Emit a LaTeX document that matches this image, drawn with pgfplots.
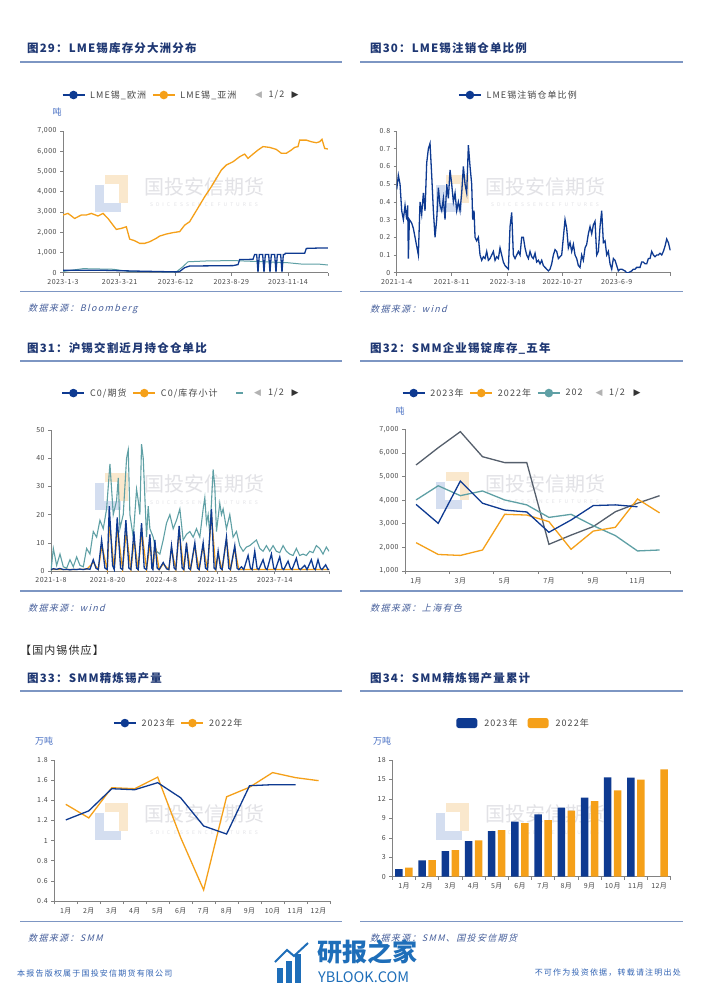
\documentclass[border=0pt]{standalone}
\usepackage{fontspec}
\setmainfont{Noto Sans CJK SC}
\newfontfamily\tickf{Noto Sans CJK SC}[LetterSpace=6]
\newfontfamily\legf{Noto Sans CJK SC}[LetterSpace=12]
\newfontfamily\titf{Noto Sans CJK SC}[LetterSpace=10]
\newfontfamily\srcf{Noto Sans CJK SC}[FakeSlant=0.25,LetterSpace=15]
\newfontfamily\footf{Noto Sans CJK SC}[LetterSpace=15]
\newfontfamily\wmf{Noto Sans CJK SC}
\newfontfamily\wmsf{Noto Sans CJK SC}[LetterSpace=60]
\newfontfamily\symf{DejaVu Sans}
\usepackage{pgfplots}
\pgfplotsset{compat=1.18}
\definecolor{cblue}{RGB}{14,58,145}
\definecolor{corange}{RGB}{245,160,25}
\definecolor{cteal}{RGB}{95,160,165}
\definecolor{cgray}{RGB}{85,95,108}
\definecolor{ctitle}{RGB}{30,55,115}
\definecolor{crule}{RGB}{125,150,195}
\definecolor{csrc}{RGB}{70,95,155}
\definecolor{cunit}{RGB}{70,110,195}
\definecolor{caxis}{RGB}{130,130,130}
\definecolor{clab}{RGB}{70,70,70}
\definecolor{wmtext}{RGB}{226,226,230}
\definecolor{wmblue}{RGB}{212,222,240}
\definecolor{wmorange}{RGB}{250,232,205}
\definecolor{cfoot}{RGB}{50,100,180}
\definecolor{cyb}{RGB}{30,110,185}

\pgfplotsset{
  base/.style={
    scale only axis, anchor=south west,
    axis x line*=bottom, axis y line*=left,
    axis line style={draw=caxis, line width=0.7pt, -},
    tick style={draw=caxis, line width=0.6pt},
    major tick length=3pt, minor tick length=3pt, tick align=outside,
    /pgf/number format/assume math mode=true,
    ticklabel style={font=\tickf\fontsize{7}{8}\selectfont, text=clab},
    legend style={draw=none, fill=none, inner sep=0pt, legend columns=-1,
      font=\legf\fontsize{9}{10}\selectfont, text=clab, anchor=west,
      /tikz/every odd column/.append style={column sep=3pt},
      /tikz/every even column/.append style={column sep=4pt}},
    legend cell align=left,
    legend image code/.code={\draw[mark repeat=2,mark phase=2,##1] plot coordinates {(0pt,0pt) (11pt,0pt) (22pt,0pt)};},
  },
  lg/.style={line width=1.3pt, mark=*, mark size=3.6pt, mark options={solid}},
}

\newcommand{\wm}[2]{%
\begin{scope}[shift={(#1,#2)}]
\fill[wmorange] (105,175) rectangle (128,184);
\fill[wmorange] (119,175) rectangle (128,203);
\fill[wmblue] (95,185) rectangle (104,212);
\fill[wmblue] (95,203) rectangle (121,212);
\node[text=wmtext, font=\wmf\fontsize{20}{20}\selectfont, inner sep=0] at (204,186.5) {国投安信期货};
\node[text=wmtext, font=\wmsf\fontsize{5}{5}\selectfont, inner sep=0] at (204,205) {SDIC ESSENCE FUTURES};
\end{scope}}

\begin{document}
\begin{tikzpicture}
\fill[white] (0pt,0pt) rectangle (702pt,-991pt);
\useasboundingbox (0pt,0pt) rectangle (702pt,-991pt);
\begin{scope}[x=1pt,y=-1pt]
% watermarks
\wm{0}{0}\wm{341}{0}\wm{0}{297.5}\wm{341}{297}\wm{0}{627.5}\wm{341}{627.5}
% titles
\tikzset{tt/.style={anchor=west, inner sep=0, text=ctitle, font=\titf\bfseries\fontsize{11.5}{12}\selectfont}}
\node[tt] at (27,48) {图29：LME锡库存分大洲分布};
\node[tt] at (370,48) {图30：LME锡注销仓单比例};
\node[tt] at (27,348) {图31：沪锡交割近月持仓仓单比};
\node[tt] at (370,348) {图32：SMM企业锡锭库存\_五年};
\node[tt] at (27,678) {图33：SMM精炼锡产量};
\node[tt] at (370,678) {图34：SMM精炼锡产量累计};
% rules
\foreach \ya/\yb in {62/291.5, 361/591, 691/921.5}{
  \draw[crule, line width=1.3pt] (20,\ya) -- (342,\ya);
  \draw[crule, line width=1.3pt] (360,\ya) -- (683,\ya);
  \draw[crule, line width=1.3pt] (20,\yb) -- (342,\yb);
  \draw[crule, line width=1.3pt] (360,\yb) -- (683,\yb);
}
% sources
\tikzset{ss/.style={anchor=west, inner sep=0, text=csrc, font=\srcf\fontsize{9}{10}\selectfont}}
\node[ss] at (28,309) {数据来源：Bloomberg};
\node[ss] at (370,309) {数据来源：wind};
\node[ss] at (28,608) {数据来源：wind};
\node[ss] at (370,608) {数据来源：上海有色};
\node[ss] at (28,938) {数据来源：SMM};
\node[ss] at (370,938) {数据来源：SMM、国投安信期货};
% section header
\node[anchor=west, inner sep=0, text=black!85, font=\titf\fontsize{11}{12}\selectfont] at (20,650) {【国内锡供应】};
% units
\tikzset{uu/.style={inner sep=0, text=cunit, font=\fontsize{9}{10}\selectfont}}
\node[uu] at (57,112) {吨};
\node[uu] at (400,411) {吨};
\node[uu] at (44,741) {万吨};
\node[uu] at (382,741) {万吨};
% legend pagers
\tikzset{pl/.style={inner sep=0, text=black!30, font=\symf\fontsize{9}{10}\selectfont},
         pr/.style={inner sep=0, text=black!80, font=\symf\fontsize{9}{10}\selectfont},
         pn/.style={inner sep=0, text=clab, font=\legf\fontsize{9}{10}\selectfont}}
\node[pl] at (258.5,95) {◀}; \node[pn] at (276.5,95) {1/2}; \node[pr] at (295,95) {▶};
\draw[cteal, line width=1.2pt] (236,393) -- (243,393);
\node[pl] at (257.5,393) {◀}; \node[pn] at (276,393) {1/2}; \node[pr] at (295,393) {▶};
\node[pl] at (599,393) {◀}; \node[pn] at (617,393) {1/2}; \node[pr] at (637,393) {▶};
% footer
\node[anchor=west, inner sep=0, text=cfoot, font=\footf\fontsize{8}{9}\selectfont] at (17,973) {本报告版权属于国投安信期货有限公司};
\node[anchor=east, inner sep=0, text=cfoot, font=\footf\fontsize{8}{9}\selectfont] at (681,973) {不可作为投资依据，转载请注明出处};
\fill[cyb] (277,968) rectangle (283,983);
\fill[cyb] (286,961) rectangle (292,983);
\fill[cyb] (295,954) rectangle (301,983);
\draw[cyb, line width=2pt] (275,962) -- (287,950) -- (294,956) -- (308,943);
\node[anchor=west, inner sep=0, text=cyb, font=\bfseries\fontsize{25}{26}\selectfont] at (317,952) {研报之家};
\node[anchor=west, inner sep=0, text=cyb, font=\fontsize{14.5}{15}\selectfont] at (318,977) {YBLOOK.COM};
\end{scope}

% ---------------- Fig 29 ----------------
\begin{axis}[base, at={(63pt,-272.7pt)}, width=265pt, height=141.7pt,
  xmin=130, xmax=925, ymin=0, ymax=7000,
  xtick={130,300,468,635,805,925}, xticklabels={2023-1-3,2023-3-21,2023-6-12,2023-8-29,2023-11-14,{}},
  ytick={0,1000,...,7000}, yticklabels={0,{1,000},{2,000},{3,000},{4,000},{5,000},{6,000},{7,000}},
  legend style={at={(-0.005,1.254)}}]
\addlegendimage{lg,cblue}\addlegendentry{LME锡\_欧洲}
\addlegendimage{lg,corange}\addlegendentry{LME锡\_亚洲}
\addplot[cteal, line width=1pt, forget plot] coordinates {(130,60)(190,200)(280,170)(330,60)(470,40)(490,300)(505,540)(560,580)(640,600)(700,560)(800,500)(850,420)(900,420)(925,380)};
\addplot[cblue, line width=1.3pt, forget plot] coordinates {(130,120)(250,120)(350,80)(470,40)(480,60)(495,250)(510,330)(640,350)(655,400)(660,650)(700,660)(705,900)
(711,900)(715,30)(719,900)(729,900)(733,30)(737,900)(747,900)(751,30)(755,900)(765,900)(769,30)(773,900)(783,900)(787,30)(791,900)(795,900)(797,960)(855,960)(860,1200)(900,1220)(925,1220)};
\addplot[corange, line width=1.3pt, forget plot] coordinates {(130,2850)(145,2930)(165,2680)(185,2850)(200,2850)(215,2930)(235,2800)(250,2930)(265,2680)(280,2350)(290,2140)(305,2190)(320,2270)(330,1660)(345,1580)(360,1450)(375,1450)(390,1530)(410,1700)(420,1810)(440,1910)(460,1980)(480,2030)(495,2350)(510,2520)(525,2930)(540,3340)(555,3750)(575,4250)(590,4660)(605,5070)(620,5320)(640,5480)(660,5730)(675,5860)(685,5650)(700,5860)(715,6060)(730,6230)(750,6190)(770,6090)(785,5900)(800,5900)(815,6060)(825,6190)(835,6230)(840,6550)(860,6550)(875,6470)(890,6420)(900,6470)(907,6590)(912,6310)(915,6140)(925,6110)};
\end{axis}

% ---------------- Fig 30 ----------------
\begin{axis}[base, at={(396.7pt,-272.7pt)}, width=274pt, height=141.7pt,
  xmin=140, xmax=962, ymin=0, ymax=0.8,
  xtick={140,305,473,637,800,962}, xticklabels={2021-1-4,2021-8-11,2022-3-18,2022-10-27,2023-6-9,{}},
  ytick={0,0.1,...,0.8}, yticklabels={0,0.1,0.2,0.3,0.4,0.5,0.6,0.7,0.8},
  legend style={at={(0.224,1.254)}}]
\addlegendimage{lg,cblue}\addlegendentry{LME锡注销仓单比例}
\addplot[cblue, line width=1.3pt, forget plot] coordinates {(140,0.47)(145,0.55)(150,0.50)(155,0.35)(160,0.30)(165,0.38)(170,0.30)(173,0.38)(175,0.08)(178,0.30)(185,0.28)(190,0.25)(195,0.20)(200,0.15)(205,0.10)(210,0.40)(215,0.33)(220,0.45)(225,0.35)(230,0.62)(235,0.70)(240,0.73)(245,0.55)(250,0.35)(255,0.20)(260,0.30)(265,0.48)(270,0.38)(275,0.35)(280,0.42)(285,0.30)(290,0.50)(295,0.42)(300,0.58)(305,0.50)(310,0.40)(315,0.45)(320,0.35)(325,0.40)(330,0.35)(335,0.45)(340,0.60)(345,0.50)(350,0.45)(355,0.72)(360,0.60)(365,0.50)(368,0.30)(372,0.35)(375,0.20)(380,0.18)(385,0.20)(390,0.10)(395,0.07)(400,0.09)(405,0.08)(410,0.12)(415,0.07)(420,0.08)(425,0.10)(430,0.12)(435,0.07)(440,0.09)(445,0.08)(450,0.14)(455,0.10)(460,0.06)(465,0.04)(470,0.03)(475,0.02)(480,0.26)(485,0.34)(490,0.10)(495,0.08)(500,0.10)(505,0.12)(510,0.10)(515,0.20)(520,0.20)(525,0.14)(530,0.10)(535,0.08)(540,0.12)(545,0.09)(550,0.08)(555,0.11)(560,0.06)(565,0.07)(570,0.05)(575,0.07)(580,0.04)(585,0.03)(590,0.02)(595,0.01)(600,0.02)(605,0.05)(610,0.10)(615,0.13)(620,0.12)(625,0.08)(630,0.09)(635,0.10)(640,0.20)(645,0.30)(650,0.25)(655,0.14)(660,0.17)(665,0.12)(670,0.16)(675,0.10)(680,0.08)(685,0.04)(690,0.03)(695,0.10)(700,0.07)(705,0.14)(710,0.16)(715,0.22)(720,0.26)(725,0.22)(730,0.27)(735,0.29)(740,0.10)(745,0.12)(750,0.26)(755,0.35)(760,0.17)(765,0.18)(770,0.10)(775,0.12)(780,0.05)(785,0.02)(790,0.08)(795,0.07)(800,0.04)(805,0.01)(810,0.02)(815,0.02)(820,0.015)(825,0.01)(830,0.0)(835,0.0)(840,0.005)(845,0.01)(850,0.02)(855,0.02)(860,0.03)(865,0.03)(870,0.03)(875,0.06)(880,0.06)(885,0.05)(890,0.05)(895,0.08)(900,0.08)(905,0.12)(910,0.10)(915,0.09)(920,0.10)(925,0.10)(930,0.11)(935,0.10)(940,0.12)(945,0.15)(950,0.19)(955,0.17)(960,0.13)(962,0.13)};
\end{axis}

% ---------------- Fig 31 ----------------
\begin{axis}[base, at={(51pt,-571pt)}, width=278pt, height=141pt,
  xmin=93, xmax=928, ymin=0, ymax=50,
  xtick={93,263,425,593,765,928}, xticklabels={2021-1-8,2021-8-20,2022-4-8,2022-11-25,2023-7-14,{}},
  ytick={0,10,...,50},
  legend style={at={(0.038,1.262)}}]
\addlegendimage{lg,cblue}\addlegendentry{C0/期货}
\addlegendimage{lg,corange}\addlegendentry{C0/库存小计}
\addplot[cteal, line width=1.1pt, forget plot] coordinates {(93,0)(100,8)(110,2)(120,6)(130,1.5)(140,1)(150,4)(160,1.5)(170,5)(180,2)(190,1.5)(200,8)(210,6)(220,14)(230,12)(240,18)(250,15)(260,22)(270,38)(280,20)(290,25)(295,33)(300,15)(310,20)(320,40)(325,43)(330,20)(340,12)(350,29)(355,25)(360,20)(365,45)(370,40)(380,12)(385,23)(390,15)(400,12)(405,9)(410,7)(420,6)(430,11)(440,17)(450,20)(460,15)(470,18)(480,22)(490,11)(500,13)(510,14)(520,12)(530,15)(540,12)(550,22)(555,26)(560,17)(565,20)(570,13)(580,36)(585,30)(590,14)(600,24)(605,20)(610,22)(620,15)(630,20)(640,12)(650,14)(660,9)(670,7)(680,8.5)(690,9)(700,10)(710,11)(720,8)(730,7)(740,9)(750,7)(760,9)(770,7)(780,6.5)(790,9)(800,7)(810,6)(820,5.5)(830,8)(840,5.5)(850,6)(860,5.5)(870,7)(880,6.5)(890,9)(900,8)(910,6)(920,8.5)(928,7)};
\addplot[corange, line width=1.2pt, forget plot] coordinates {(93,0.5)(200,0.6)(220,3)(235,0.5)(246,9)(262,0.5)(269,17)(283,0.5)(293,15)(308,0.5)(319,14)(333,0.5)(343,11)(355,0.5)(366,14)(380,0.5)(391,10)(399,0.5)(406,9)(418,0.5)(430,2.5)(447,0.5)(455,8)(468,0.5)(478,14)(492,0.5)(500,9)(512,0.5)(525,9)(538,0.5)(550,9)(563,0.5)(575,20)(588,0.5)(595,6)(607,0.5)(620,11)(632,0.5)(645,8)(657,0.5)(928,0.5)};
\addplot[cblue, line width=1.3pt, forget plot] coordinates {(93,0.5)(100,0.8)(110,0.6)(120,0.9)(130,0.5)(140,0.6)(150,0.4)(160,0.6)(170,0.5)(180,0.7)(190,0.5)(200,0.8)(210,0.6)(220,4)(228,1)(235,0.5)(245,11)(255,1)(262,0.5)(268,23)(278,2)(283,0.5)(292,19)(302,1)(308,0.5)(318,18)(327,1)(333,0.5)(342,14)(350,1)(355,0.5)(365,17)(373,1)(380,0.5)(390,13)(396,1)(399,0.5)(405,11)(412,1)(418,0.5)(430,3)(440,0.8)(447,0.5)(455,9)(463,1)(468,0.5)(478,16)(487,1)(492,0.5)(500,10)(507,1)(512,0.5)(525,10)(533,1)(538,0.5)(550,10)(557,1)(563,0.5)(575,22)(583,1)(588,0.5)(595,7)(602,1)(607,0.5)(620,12)(627,1)(632,0.5)(645,9)(652,1)(657,0.5)(665,1.5)(672,0.5)(685,5.5)(692,1)(697,0.5)(705,7)(712,1)(717,0.5)(730,4)(737,1)(742,0.5)(755,6)(762,1)(767,0.5)(780,5)(787,1)(792,0.5)(805,3.5)(812,1)(817,0.5)(830,4.5)(837,1)(842,0.5)(855,2)(862,0.5)(875,4)(882,1)(887,0.5)(895,4)(902,1)(907,0.5)(918,2.2)(925,0.5)(928,0.5)};
\end{axis}

% ---------------- Fig 32 ----------------
\begin{axis}[base, at={(405pt,-571pt)}, width=265.7pt, height=141.7pt,
  xmin=0.5, xmax=12.5, ymin=1000, ymax=7000,
  xtick={1,3,5,7,9,11}, xticklabels={1月,3月,5月,7月,9月,11月},
  major x tick style={draw=none}, minor xtick={0.5,2.5,4.5,6.5,8.5,10.5,12.5},
  ytick={1000,2000,...,7000}, yticklabels={{1,000},{2,000},{3,000},{4,000},{5,000},{6,000},{7,000}},
  legend style={at={(-0.012,1.256)}}]
\addlegendimage{lg,cblue}\addlegendentry{2023年}
\addlegendimage{lg,corange}\addlegendentry{2022年}
\addlegendimage{lg,cteal}\addlegendentry{202}
\addplot[cgray, line width=1.3pt, forget plot] coordinates {(1,5490)(2,6220)(3,6900)(4,5840)(5,5590)(6,5590)(7,2130)(8,2520)(9,2880)(10,3510)(11,3870)(12,4190)};
\addplot[cteal, line width=1.3pt, forget plot] coordinates {(1,4010)(2,4610)(3,4190)(4,4390)(5,4010)(6,3800)(7,3270)(8,3400)(9,2920)(10,2500)(11,1850)(12,1890)};
\addplot[corange, line width=1.3pt, forget plot] coordinates {(1,2200)(2,1700)(3,1660)(4,1890)(5,3400)(6,3370)(7,3090)(8,1920)(9,2690)(10,2850)(11,4050)(12,3460)};
\addplot[cblue, line width=1.3pt, forget plot] coordinates {(1,3820)(2,3020)(3,4810)(4,3870)(5,3580)(6,3500)(7,2640)(8,3160)(9,3770)(10,3800)(11,3720)};
\end{axis}

% ---------------- Fig 33 ----------------
\begin{axis}[base, at={(54.3pt,-901pt)}, width=275.7pt, height=141pt,
  xmin=0.5, xmax=12.5, ymin=0.4, ymax=1.8,
  xtick={1,...,12}, xticklabels={1月,2月,3月,4月,5月,6月,7月,8月,9月,10月,11月,12月},
  major x tick style={draw=none}, minor xtick={0.5,1.5,...,12.5},
  ytick={0.4,0.6,...,1.8}, yticklabels={0.4,0.6,0.8,1,1.2,1.4,1.6,1.8},
  legend style={at={(0.213,1.262)}}]
\addlegendimage{lg,cblue}\addlegendentry{2023年}
\addlegendimage{lg,corange}\addlegendentry{2022年}
\addplot[corange, line width=1.3pt, forget plot] coordinates {(1,1.36)(2,1.225)(3,1.525)(4,1.515)(5,1.63)(6,1.03)(7,0.51)(8,1.435)(9,1.53)(10,1.675)(11,1.625)(12,1.595)};
\addplot[cblue, line width=1.3pt, forget plot] coordinates {(1,1.205)(2,1.295)(3,1.515)(4,1.505)(5,1.575)(6,1.425)(7,1.145)(8,1.065)(9,1.545)(10,1.555)(11,1.555)};
\end{axis}

% ---------------- Fig 34 ----------------
\begin{axis}[base, at={(392.3pt,-876.7pt)}, width=278.4pt, height=116.7pt,
  xmin=0.5, xmax=12.5, ymin=0, ymax=18,
  xtick={1,...,12}, xticklabels={1月,2月,3月,4月,5月,6月,7月,8月,9月,10月,11月,12月},
  major x tick style={draw=none}, minor xtick={0.5,1.5,...,12.5},
  ytick={0,3,...,18},
  legend image code/.code={\fill[#1] (0pt,-5pt) rectangle (21pt,5pt);},
  legend style={at={(0.229,1.317)}, /tikz/every odd column/.append style={column sep=5pt}, /tikz/every even column/.append style={column sep=8pt}}]
\addlegendimage{fill=cblue, draw=none, rounded corners=2.5pt}\addlegendentry{2023年}
\addlegendimage{fill=corange, draw=none, rounded corners=2.5pt}\addlegendentry{2022年}
\addplot[ybar, bar width=7.5pt, bar shift=-5pt, fill=cblue, draw=none, forget plot] coordinates {(1,1.18)(2,2.52)(3,3.96)(4,5.5)(5,7.05)(6,8.49)(7,9.62)(8,10.65)(9,12.19)(10,15.33)(11,15.27)};
\addplot[ybar, bar width=7.5pt, bar shift=5pt, fill=corange, draw=none, forget plot] coordinates {(1,1.39)(2,2.57)(3,4.11)(4,5.61)(5,7.2)(6,8.28)(7,8.74)(8,10.18)(9,11.67)(10,13.32)(11,14.97)(12,16.56)};
\end{axis}
\end{tikzpicture}
\end{document}
